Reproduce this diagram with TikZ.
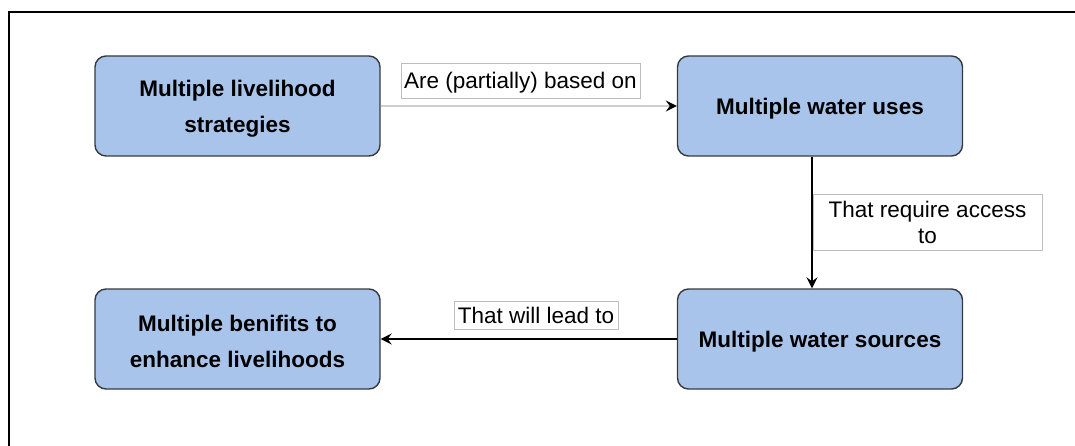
\documentclass[tikz,border=0pt]{standalone}
\usepackage{fontspec}
\setmainfont{Liberation Sans}
\usetikzlibrary{arrows.meta}
\definecolor{boxfill}{HTML}{A9C4EB}
\definecolor{boxline}{HTML}{36393D}
\definecolor{lblline}{HTML}{BDBDBD}
\definecolor{lightarrow}{HTML}{CFCFCF}
\tikzset{
  blockbox/.style={draw=boxline, line width=1.4pt, fill=boxfill, rounded corners=11pt,
    minimum width=285pt, minimum height=100pt, inner sep=0pt, align=center, text height=21pt,
    font=\fontsize{22.5}{36}\selectfont\bfseries},
  twolinebox/.style={blockbox, text height=57.5pt},
  edgelabel/.style={draw=lblline, line width=0.8pt, fill=white, inner sep=2pt, align=center,
    font=\fontsize{22.5}{26}\selectfont},
  flowarrow/.style={line width=1.5pt, -{Stealth[length=11pt,width=11pt,inset=4pt]}},
}
\begin{document}
\begin{tikzpicture}[x=1pt,y=-1pt]
\useasboundingbox (0,0) rectangle (1075,446);
\draw[line width=1.3pt] (1090,12) -- (9,12) -- (9,460);
\node[twolinebox] (mls) at (237.5,106) {Multiple livelihood\\strategies};
\node[blockbox] (mwu) at (820,106) {Multiple water uses};
\node[blockbox] (mws) at (820,339) {Multiple water sources};
\node[twolinebox] (mbe) at (237.5,339) {Multiple benifits to\\enhance livelihoods};
\draw[flowarrow, draw=lightarrow, line width=1.2pt, -{Stealth[length=11pt,width=11pt,inset=4pt,fill=black,color=black]}] (mls) -- (mwu);
\draw[flowarrow] (mwu.south -| 812,0) -- (mws.north -| 812,0);
\draw[flowarrow] (mws) -- (mbe);
\node[edgelabel, minimum width=239pt, minimum height=35pt, text height=20pt] (l1) at (520.5,80.5) {Are (partially) based on};
\node[edgelabel, minimum width=229pt, minimum height=56pt] (l2) at (927.5,222) {That require access\\to};
\node[edgelabel, minimum width=164pt, minimum height=28pt] (l3) at (536,315) {That will lead to};
\end{tikzpicture}
\end{document}
